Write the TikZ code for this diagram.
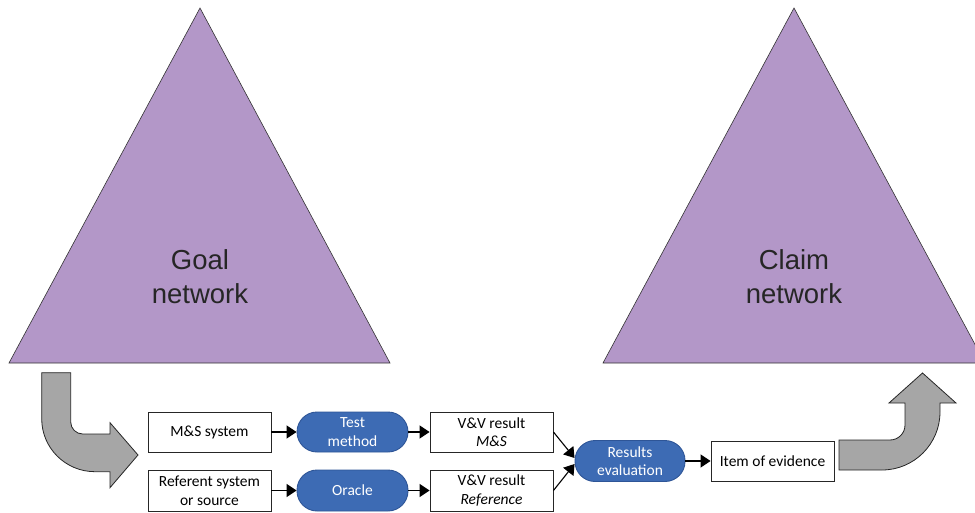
\documentclass[tikz,border=0pt]{standalone}
\usepackage{fontspec}
\setmainfont{Carlito}
\setsansfont{Liberation Sans}
\usetikzlibrary{arrows.meta}
\definecolor{purp}{HTML}{B397C8}
\definecolor{pillblue}{HTML}{3D6BB4}
\definecolor{pilledge}{HTML}{2E5597}
\definecolor{arrgrey}{HTML}{A6A6A6}
\begin{document}
\begin{tikzpicture}[x=1pt,y=-1pt,
 box/.style={draw=black!85,line width=0.9pt,fill=white,minimum width=123pt,minimum height=40pt,align=center,font=\fontsize{15.5}{18.5}\selectfont,inner sep=2pt},
 pill/.style={draw=pilledge,line width=0.9pt,fill=pillblue,text=white,rounded corners=20pt,minimum width=111pt,minimum height=40pt,align=center,font=\fontsize{15.5}{18.5}\selectfont,inner sep=2pt},
 conn/.style={line width=1.1pt,-{Triangle[length=10pt,width=13pt]}},
 tri/.style={draw=black!80,line width=0.6pt,fill=purp},
 bendarrow/.style={draw=black!85,line width=0.8pt,fill=arrgrey},
 big/.style={font=\sffamily\fontsize{27.5}{34}\selectfont,text=black!85,align=center}]
\useasboundingbox (0,0) rectangle (975,513);
\clip (0,0) rectangle (975,513);
% triangles
\draw[tri] (200,8) -- (390,363) -- (9,363) -- cycle;
\node[big] (goal) at (200,277) {Goal\\network};
\draw[tri] (794,8) -- (985,363) -- (603,363) -- cycle;
\node[big] (claim) at (794,277) {Claim\\network};
% bent arrows
\draw[bendarrow] (41.7,372.7) -- (70.7,372.7) -- (70.7,422)
  .. controls (70.7,428.6) and (76.1,434) .. (82.7,434) -- (110,434) -- (110,422.7)
  -- (138,455) -- (110,487.7) -- (110,471.7) -- (95,471.7)
  .. controls (65.6,471.7) and (41.7,448.1) .. (41.7,418.7) -- cycle;
\draw[bendarrow] (839,440) -- (890,440)
  .. controls (898.3,440) and (905,433.3) .. (905,425) -- (905,403) -- (889,403)
  -- (922.5,373) -- (956,403) -- (940,403) -- (940,412)
  .. controls (940,444) and (914,470) .. (882,470) -- (839,470) -- cycle;
% nodes
\node[box] (ms) at (209.5,432) {M\&S system};
\node[box,minimum height=41pt] (ref) at (209.5,490.5) {Referent system\\or source};
\node[pill] (test) at (352.5,432) {Test\\method};
\node[pill,minimum height=41pt] (oracle) at (352.5,490.5) {Oracle};
\node[box] (vvms) at (491.5,432) {V\&V result\\\textit{M\&S}};
\node[box,minimum height=41pt] (vvref) at (491.5,490.5) {V\&V result\\\textit{Reference}};
\node[pill,minimum width=110pt,minimum height=41pt] (eval) at (630,461) {Results\\evaluation};
\node[box] (item) at (772.5,461) {Item of evidence};
% connectors
\draw[conn] (ms) -- (test);
\draw[conn] (ref) -- (oracle);
\draw[conn] (test) -- (vvms);
\draw[conn] (oracle) -- (vvref);
\draw[conn] (vvms.east) -- ([yshift=3pt]eval.west);
\draw[conn] (vvref.east) -- ([yshift=-3pt]eval.west);
\draw[conn] (eval) -- (item);
\end{tikzpicture}
\end{document}
